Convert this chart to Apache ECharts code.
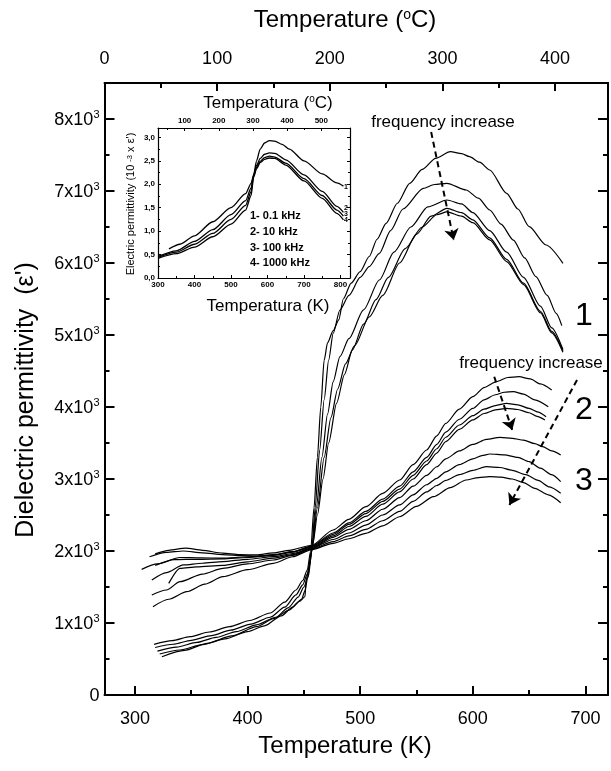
<!DOCTYPE html>
<html>
<head>
<meta charset="utf-8">
<script src="https://cdn.jsdelivr.net/npm/echarts@6/dist/echarts.min.js"></script>
<style>
  html, body { margin: 0; padding: 0; background: #fff; }
  #chart { width: 611px; height: 771px; }
</style>
</head>
<body>
<div id="chart"></div>
<script>
// ---- Main plot: temperature (K) vs dielectric permittivity ----
const T_MIN = 273, T_MAX = 720;          // Kelvin range of the main plot
const EPS_MAX = 8500;
const kTicks = [300, 400, 500, 600, 700];
const kMinor = [350, 450, 550, 650];
const cTicks = [0, 100, 200, 300, 400];
const cMinor = [50, 150, 250, 350];
const epsTicks = [0, 1000, 2000, 3000, 4000, 5000, 6000, 7000, 8000];
const epsMinor = [500, 1500, 2500, 3500, 4500, 5500, 6500, 7500];

// Sample 1: sharp ferroelectric transition (five frequencies, low to high)
const s1f1 = [[317,704],[333,755],[349,810],[366,875],[384,949],[402,1035],[420,1139],[433,1290],[443,1458],[449,1590],[453,1736],[456,2000],[459,2600],[462,3300],[465,4000],[468,4650],[471,4890],[476,5060],[481,5210],[485,5500],[492,5720],[500,5880],[508,6090],[515,6330],[523,6550],[533,6830],[544,7107],[555,7300],[567,7454],[580,7546],[590,7520],[597,7477],[606,7400],[615,7292],[630,6968],[640,6750],[650,6504],[665,6250],[680,5996]];
const s1f2 = [[318,660],[334,705],[350,760],[368,825],[385,900],[403,985],[420,1080],[433,1220],[443,1390],[449,1530],[453,1680],[457,2000],[460,2600],[464,3400],[468,4100],[472,4650],[476,5023],[482,5347],[490,5550],[500,5800],[508,5950],[517,6134],[527,6450],[538,6750],[556,7037],[566,7090],[577,7107],[594,7014],[605,6900],[615,6736],[625,6540],[636,6319],[646,6070],[656,5810],[666,5550],[674,5301],[679,5130]];
const s1f3 = [[320,610],[337,665],[355,730],[372,800],[390,880],[408,975],[425,1080],[436,1210],[445,1360],[450,1500],[454,1650],[457,2000],[461,2600],[466,3300],[471,3900],[476,4350],[482,4700],[490,4950],[503,5350],[517,5764],[530,6150],[545,6500],[560,6780],[577,6875],[590,6820],[600,6700],[615,6450],[630,6150],[645,5800],[660,5400],[670,5100],[680,4800]];
const s1f4 = [[322,570],[340,625],[360,700],[380,780],[400,880],[415,960],[430,1100],[440,1220],[448,1330],[451,1450],[453,1600],[457,2000],[462,2600],[468,3300],[474,3850],[480,4250],[487,4600],[495,4850],[508,5250],[520,5550],[535,6000],[550,6400],[563,6650],[577,6760],[590,6700],[600,6600],[615,6350],[630,6050],[645,5720],[660,5330],[670,5050],[680,4780]];
const s1f5 = [[324,532],[344,620],[364,718],[386,820],[408,949],[423,1060],[437,1180],[446,1300],[451,1365],[452,1600],[455,1800],[458,2100],[462,2500],[467,3000],[472,3500],[479,4050],[486,4450],[493,4790],[503,5150],[514,5490],[525,5800],[540,6200],[555,6500],[568,6670],[577,6710],[590,6650],[600,6560],[615,6320],[630,6020],[645,5700],[660,5310],[670,5030],[680,4760]];

// Sample 2: diffuse maximum (four frequencies)
const s2f1 = [[318,1960],[330,2010],[345,2040],[360,2010],[378,1970],[393,1950],[408,1945],[423,1975],[437,2010],[457,2080],[476,2292],[490,2440],[505,2615],[520,2800],[535,2986],[547,3200],[559,3403],[568,3600],[576,3773],[588,3970],[600,4143],[610,4270],[621,4352],[631,4410],[641,4421],[651,4390],[660,4320],[670,4236]];
const s2f2 = [[313,1920],[328,1980],[343,2000],[360,1975],[378,1950],[395,1935],[410,1930],[425,1955],[440,1990],[457,2070],[476,2250],[490,2390],[505,2550],[520,2720],[535,2900],[547,3100],[559,3300],[568,3480],[576,3650],[588,3830],[600,3980],[610,4100],[620,4170],[628,4205],[636,4213],[645,4180],[655,4100],[667,4004]];
const s2f3 = [[306,1745],[320,1820],[340,1910],[358,1905],[378,1900],[400,1920],[423,1944],[440,1990],[457,2060],[476,2230],[490,2370],[505,2520],[520,2690],[535,2860],[547,3050],[559,3250],[568,3420],[576,3580],[588,3750],[600,3880],[610,3970],[620,4020],[630,4051],[640,4030],[650,3980],[658,3930],[665,3865]];
const s2f4 = [[318,1800],[335,1880],[355,1885],[378,1890],[400,1910],[423,1940],[440,1985],[457,2050],[476,2210],[490,2340],[505,2480],[520,2650],[535,2820],[547,3000],[559,3200],[568,3360],[576,3520],[588,3690],[600,3820],[610,3910],[620,3960],[630,3981],[640,3965],[650,3920],[657,3870],[664,3819]];

// Sample 3: diffuse maximum (four frequencies)
const s3f1 = [[315,1597],[328,1700],[343,1806],[360,1830],[378,1852],[400,1885],[423,1921],[440,1965],[457,2040],[476,2190],[490,2300],[505,2420],[520,2580],[535,2740],[547,2900],[559,3050],[568,3170],[576,3280],[588,3390],[600,3480],[612,3550],[624,3578],[635,3565],[645,3540],[655,3490],[662,3450],[670,3390],[678,3333]];
const s3f2 = [[330,1550],[340,1760],[355,1780],[378,1800],[400,1850],[423,1900],[440,1950],[457,2040],[476,2160],[490,2250],[505,2360],[520,2500],[535,2640],[547,2780],[559,2920],[568,3010],[576,3100],[588,3200],[600,3280],[608,3325],[615,3347],[628,3335],[640,3300],[650,3240],[660,3150],[670,3060],[678,2963]];
const s3f3 = [[315,1389],[328,1458],[340,1574],[360,1680],[378,1759],[400,1820],[423,1875],[440,1940],[457,2030],[476,2130],[490,2210],[505,2300],[520,2420],[535,2550],[547,2690],[559,2820],[568,2910],[576,2980],[588,3060],[600,3120],[612,3171],[624,3160],[635,3120],[647,3060],[658,2980],[668,2890],[678,2801]];
const s3f4 = [[316,1227],[330,1330],[346,1435],[362,1540],[378,1643],[400,1740],[423,1829],[440,1920],[457,2020],[476,2107],[490,2170],[505,2245],[520,2350],[535,2476],[550,2620],[565,2754],[580,2880],[594,2986],[605,3020],[615,3032],[625,3025],[635,3000],[645,2950],[655,2870],[667,2780],[678,2671]];

// "frequency increase" arrows, in (K, permittivity)
const arrowSample1 = [[563, 7820], [583, 6320]];
const arrowSample2 = [[619, 4420], [635, 3680]];
const arrowSample3 = [[692.5, 4375], [632.5, 2640]];

// ---- Inset: electric permittivity (10^3) vs temperature (K) ----
const IN_T_MIN = 300, IN_T_MAX = 826;
const IN_C_MIN = 22, IN_C_MAX = 584;
const inKTicks = [300, 400, 500, 600, 700, 800];
const inKMinor = [350, 450, 550, 650, 750];
const inCTicks = [100, 200, 300, 400, 500];
const inCMinor = [50, 150, 250, 350, 450, 550];
const inEpsTicks = [0, 0.5, 1.0, 1.5, 2.0, 2.5, 3.0];
const inEpsMinor = [0.25, 0.75, 1.25, 1.75, 2.25, 2.75];
const inLegend = ['1- 0.1 kHz', '2- 10 kHz', '3- 100 kHz', '4- 1000 kHz'];

const in01kHz   = [[330,0.62],[360,0.72],[400,0.9],[450,1.2],[500,1.5],[540,1.8],[555,2.02],[562,2.2],[570,2.5],[580,2.75],[592,2.88],[605,2.93],[620,2.92],[640,2.85],[660,2.75],[700,2.5],[750,2.22],[790,2.03],[808,1.96]];
const in10kHz   = [[300,0.46],[350,0.58],[400,0.78],[450,1.03],[500,1.35],[540,1.65],[555,1.92],[562,2.2],[570,2.4],[580,2.55],[592,2.64],[605,2.67],[620,2.66],[650,2.52],[700,2.2],[750,1.85],[790,1.53],[808,1.4]];
const in100kHz  = [[300,0.44],[350,0.55],[400,0.72],[450,0.95],[500,1.25],[540,1.55],[555,1.84],[562,2.18],[570,2.36],[580,2.49],[592,2.57],[605,2.6],[620,2.58],[650,2.45],[700,2.12],[750,1.76],[790,1.45],[808,1.32]];
const in1000kHz = [[300,0.42],[350,0.52],[400,0.66],[450,0.88],[500,1.15],[540,1.45],[555,1.76],[562,2.15],[570,2.33],[580,2.46],[592,2.53],[605,2.56],[620,2.55],[650,2.41],[700,2.07],[750,1.7],[790,1.38],[808,1.24]];

// ---- Styling ----
const FONT = '"Liberation Sans", Arial, Helvetica, sans-serif';
const BLACK = '#000';
const MAIN_GRID = { left: 104.5, top: 83, width: 503.5, height: 612 };
const INSET_GRID = { left: 158, top: 128, width: 192, height: 150 };

function axis(opts) {
  const a = {
    type: 'value',
    gridIndex: opts.grid,
    position: opts.position,
    min: opts.min,
    max: opts.max,
    splitLine: { show: false },
    axisLine: { show: !!opts.line, onZero: false, lineStyle: { color: BLACK, width: opts.lineWidth || 2 } },
    axisTick: {
      show: true, inside: true, length: opts.tickLen,
      customValues: opts.ticks,
      lineStyle: { color: BLACK, width: opts.tickWidth || 2 }
    },
    axisLabel: { show: false }
  };
  if (opts.labels) {
    a.axisLabel = Object.assign({
      show: true,
      customValues: opts.ticks,
      color: BLACK,
      fontFamily: FONT
    }, opts.labels);
  }
  return a;
}

const mainLabel = { fontSize: 18 };
const insetLabel = { fontSize: 8, fontWeight: 'bold', margin: 3 };

const xAxes = [
  // main grid: Kelvin bottom, Celsius top
  axis({ grid: 0, position: 'bottom', min: T_MIN, max: T_MAX, line: true, tickLen: 9, ticks: kTicks,
         labels: Object.assign({ margin: 15 }, mainLabel) }),
  axis({ grid: 0, position: 'top', min: T_MIN - 273, max: T_MAX - 273, line: true, tickLen: 8, ticks: cTicks,
         labels: Object.assign({ margin: 15 }, mainLabel) }),
  // main overlay grid: minor ticks
  axis({ grid: 1, position: 'bottom', min: T_MIN, max: T_MAX, tickLen: 5, ticks: kMinor }),
  axis({ grid: 1, position: 'top', min: T_MIN - 273, max: T_MAX - 273, tickLen: 5, ticks: cMinor }),
  // inset
  axis({ grid: 2, position: 'bottom', min: IN_T_MIN, max: IN_T_MAX, line: true, lineWidth: 1.2, tickLen: 3, tickWidth: 1,
         ticks: inKTicks, labels: insetLabel }),
  axis({ grid: 2, position: 'top', min: IN_C_MIN, max: IN_C_MAX, line: true, lineWidth: 1.2, tickLen: 3, tickWidth: 1,
         ticks: inCTicks, labels: insetLabel }),
  axis({ grid: 3, position: 'bottom', min: IN_T_MIN, max: IN_T_MAX, tickLen: 2, tickWidth: 1, ticks: inKMinor }),
  axis({ grid: 3, position: 'top', min: IN_C_MIN, max: IN_C_MAX, tickLen: 2, tickWidth: 1, ticks: inCMinor })
];

const yAxes = [
  axis({ grid: 0, position: 'left', min: 0, max: EPS_MAX, line: true, tickLen: 10, ticks: epsTicks,
         labels: {
           margin: 5,
           formatter: v => v === 0 ? '{a|0}' : '{a|' + (v / 1000) + 'x10}{s|3}',
           rich: {
             a: { fontSize: 18, lineHeight: 20, verticalAlign: 'bottom', fontFamily: FONT, color: BLACK },
             s: { fontSize: 11, lineHeight: 10, verticalAlign: 'top', fontFamily: FONT, color: BLACK }
           }
         } }),
  axis({ grid: 0, position: 'right', min: 0, max: EPS_MAX, line: true, tickLen: 10, ticks: epsTicks }),
  axis({ grid: 1, position: 'left', min: 0, max: EPS_MAX, tickLen: 5, ticks: epsMinor }),
  axis({ grid: 1, position: 'right', min: 0, max: EPS_MAX, tickLen: 5, ticks: epsMinor }),
  axis({ grid: 2, position: 'left', min: 0, max: 3.2, line: true, lineWidth: 1.2, tickLen: 3, tickWidth: 1,
         ticks: inEpsTicks,
         labels: Object.assign({ formatter: v => v.toFixed(1).replace('.', ',') }, insetLabel) }),
  axis({ grid: 2, position: 'right', min: 0, max: 3.2, line: true, lineWidth: 1.2, tickLen: 3, tickWidth: 1, ticks: inEpsTicks }),
  axis({ grid: 3, position: 'left', min: 0, max: 3.2, tickLen: 2, tickWidth: 1, ticks: inEpsMinor }),
  axis({ grid: 3, position: 'right', min: 0, max: 3.2, tickLen: 2, tickWidth: 1, ticks: inEpsMinor })
];

function curve(data, xi, yi, width) {
  return {
    type: 'line', xAxisIndex: xi, yAxisIndex: yi, data: data,
    symbol: 'none', showSymbol: false, silent: true,
    smooth: 0.25, smoothMonotone: 'x',
    lineStyle: { color: BLACK, width: width }
  };
}

const mainCurves = [s1f1, s1f2, s1f3, s1f4, s1f5, s2f1, s2f2, s2f3, s2f4, s3f1, s3f2, s3f3, s3f4];
const insetCurves = [in01kHz, in10kHz, in100kHz, in1000kHz];

const series = mainCurves.map(d => curve(d, 0, 0, 1.2))
  .concat(insetCurves.map(d => curve(d, 4, 4, 1.3)));

// dashed "frequency increase" arrows
series[0].markLine = {
  silent: true,
  symbol: ['none', 'arrow'],
  symbolSize: 11,
  label: { show: false },
  lineStyle: { color: BLACK, width: 2, type: [6, 4] },
  data: [arrowSample1, arrowSample2, arrowSample3].map(a => [
    { coord: a[0] }, { coord: a[1] }
  ])
};

function txt(x, y, text, size, extra) {
  return {
    type: 'text', x: x, y: y, silent: true,
    style: Object.assign({
      text: text, fill: BLACK, font: size + 'px ' + FONT,
      textAlign: 'center', textVerticalAlign: 'middle'
    }, extra || {})
  };
}

const graphic = [
  txt(345, 20, 'Temperature ({s|o}C)', 24, {
    rich: { s: { fontSize: 14, lineHeight: 12, verticalAlign: 'top', fontFamily: FONT } }
  }),
  txt(345, 746, 'Temperature (K)', 24),
  Object.assign(txt(26, 400, "Dielectric permittivity  (\u03b5')", 25), { rotation: Math.PI / 2 }),
  txt(443, 122, 'frequency increase', 17),
  txt(531, 363, 'frequency increase', 17),
  txt(584, 316, '1', 32),
  txt(584, 410, '2', 32),
  txt(584, 481, '3', 32),
  // inset annotations
  txt(268, 103, 'Temperatura ({s|o}C)', 17, {
    rich: { s: { fontSize: 10, lineHeight: 9, verticalAlign: 'top', fontFamily: FONT } }
  }),
  txt(268, 306, 'Temperatura (K)', 17),
  Object.assign(txt(131, 204, "Electric permittivity (10 {s|-3} x \u03b5')", 11, {
    rich: { s: { fontSize: 7.5, lineHeight: 6, verticalAlign: 'top', fontFamily: FONT } }
  }), { rotation: Math.PI / 2 }),
  txt(250, 216, inLegend[0], 11, { textAlign: 'left', font: 'bold 11px ' + FONT }),
  txt(250, 232, inLegend[1], 11, { textAlign: 'left', font: 'bold 11px ' + FONT }),
  txt(250, 248, inLegend[2], 11, { textAlign: 'left', font: 'bold 11px ' + FONT }),
  txt(250, 263, inLegend[3], 11, { textAlign: 'left', font: 'bold 11px ' + FONT }),
  txt(346, 187, '1', 7, { font: 'bold 7px ' + FONT }),
  txt(346, 208, '2', 7, { font: 'bold 7px ' + FONT }),
  txt(346, 214, '3', 7, { font: 'bold 7px ' + FONT }),
  txt(346, 220, '4', 7, { font: 'bold 7px ' + FONT })
];

const chart = echarts.init(document.getElementById('chart'), null, { renderer: 'canvas' });
chart.setOption({
  animation: false,
  backgroundColor: '#fff',
  grid: [
    Object.assign({ containLabel: false }, MAIN_GRID),
    Object.assign({ containLabel: false }, MAIN_GRID),
    Object.assign({ containLabel: false, show: true, backgroundColor: '#fff', borderWidth: 0 }, INSET_GRID),
    Object.assign({ containLabel: false }, INSET_GRID)
  ],
  xAxis: xAxes,
  yAxis: yAxes,
  series: series,
  graphic: graphic
});
</script>
</body>
</html>
